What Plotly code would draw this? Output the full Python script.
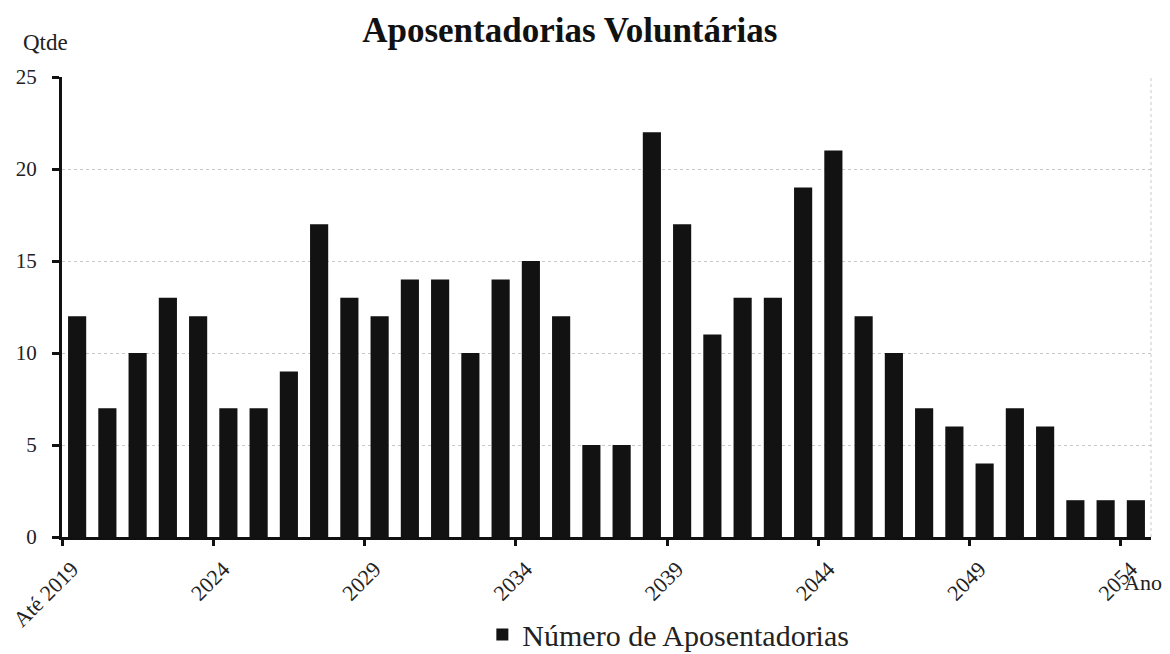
import plotly.graph_objects as go

anos = ["Até 2019"] + [str(a) for a in range(2020, 2055)]
valores = [12, 7, 10, 13, 12, 7, 7, 9, 17, 13, 12, 14, 14, 10, 14, 15, 12, 5, 5,
           22, 17, 11, 13, 13, 19, 21, 12, 10, 7, 6, 4, 7, 6, 2, 2, 2]
y_ticks = [0, 5, 10, 15, 20, 25]

idx = list(range(len(anos)))
label_idx = idx[::5]
label_txt = [anos[i] for i in label_idx]
bound_idx = [i - 0.5 for i in label_idx]

FONT = "Liberation Serif"

fig = go.Figure()
fig.add_trace(go.Bar(
    x=idx, y=valores, name="Número de Aposentadorias",
    marker=dict(color="#121212", line=dict(width=0)),
    showlegend=True,
))

rng = [-0.5, len(anos) - 0.5]
rng2 = [-0.33, len(anos) - 0.33]
fig.update_layout(
    width=1170, height=654,
    paper_bgcolor="white", plot_bgcolor="white",
    margin=dict(l=62, r=19, t=77, b=117, autoexpand=False),
    bargap=0.4,
    font=dict(family=FONT, color="#222"),
    title=dict(text="<b>Aposentadorias Voluntárias</b>", x=0.487, xref="container",
               xanchor="center", y=0.955, yanchor="middle",
               font=dict(family=FONT, size=35, color="#111")),
    xaxis=dict(range=rng, tickmode="array", tickvals=bound_idx, showticklabels=False,
               ticks="outside", ticklen=6, tickwidth=3, tickcolor="#111",
               showline=True, linecolor="#111", linewidth=3, automargin=False,
               showgrid=False, zeroline=False),
    xaxis2=dict(range=rng2, overlaying="x", side="bottom", anchor="y",
                tickmode="array", tickvals=label_idx, ticktext=label_txt,
                tickangle=-45, ticks="", showgrid=False, zeroline=False, automargin=False,
                ticklabelstandoff=14,
                showline=False, tickfont=dict(family=FONT, size=22, color="#222")),
    yaxis=dict(range=[0, 25], tickmode="array", tickvals=y_ticks,
               ticks="outside", ticklen=7, tickwidth=3, tickcolor="#111",
               showline=True, linecolor="#111", linewidth=3, automargin=False,
               ticklabelstandoff=11,
               showgrid=True, gridcolor="#c8c8c8", griddash="dot", gridwidth=1,
               zeroline=False, tickfont=dict(family=FONT, size=21, color="#222")),
    legend=dict(orientation="h", x=0.386, xanchor="left", y=-0.212, yanchor="middle",
                font=dict(family=FONT, size=30, color="#222"), itemwidth=30),
    annotations=[
        dict(text="Qtde", xref="paper", yref="paper", x=-0.0156, y=1.075,
             xanchor="center", yanchor="middle", showarrow=False,
             font=dict(family=FONT, size=23, color="#222")),
        dict(text="Ano", xref="paper", yref="paper", x=0.9927, y=-0.098,
             xanchor="center", yanchor="middle", showarrow=False,
             font=dict(family=FONT, size=22, color="#222")),
    ],
    shapes=[dict(type="line", xref="paper", yref="paper", x0=1, x1=1, y0=0, y1=1,
                 line=dict(color="#c8c8c8", width=1, dash="dot"))],
)
fig.add_trace(go.Scatter(x=[None], y=[None], xaxis="x2", showlegend=False, hoverinfo="skip"))

fig.write_html("out.html", config={"displayModeBar": False},
               post_script="document.body.style.margin='0';document.body.style.overflow='hidden';")
